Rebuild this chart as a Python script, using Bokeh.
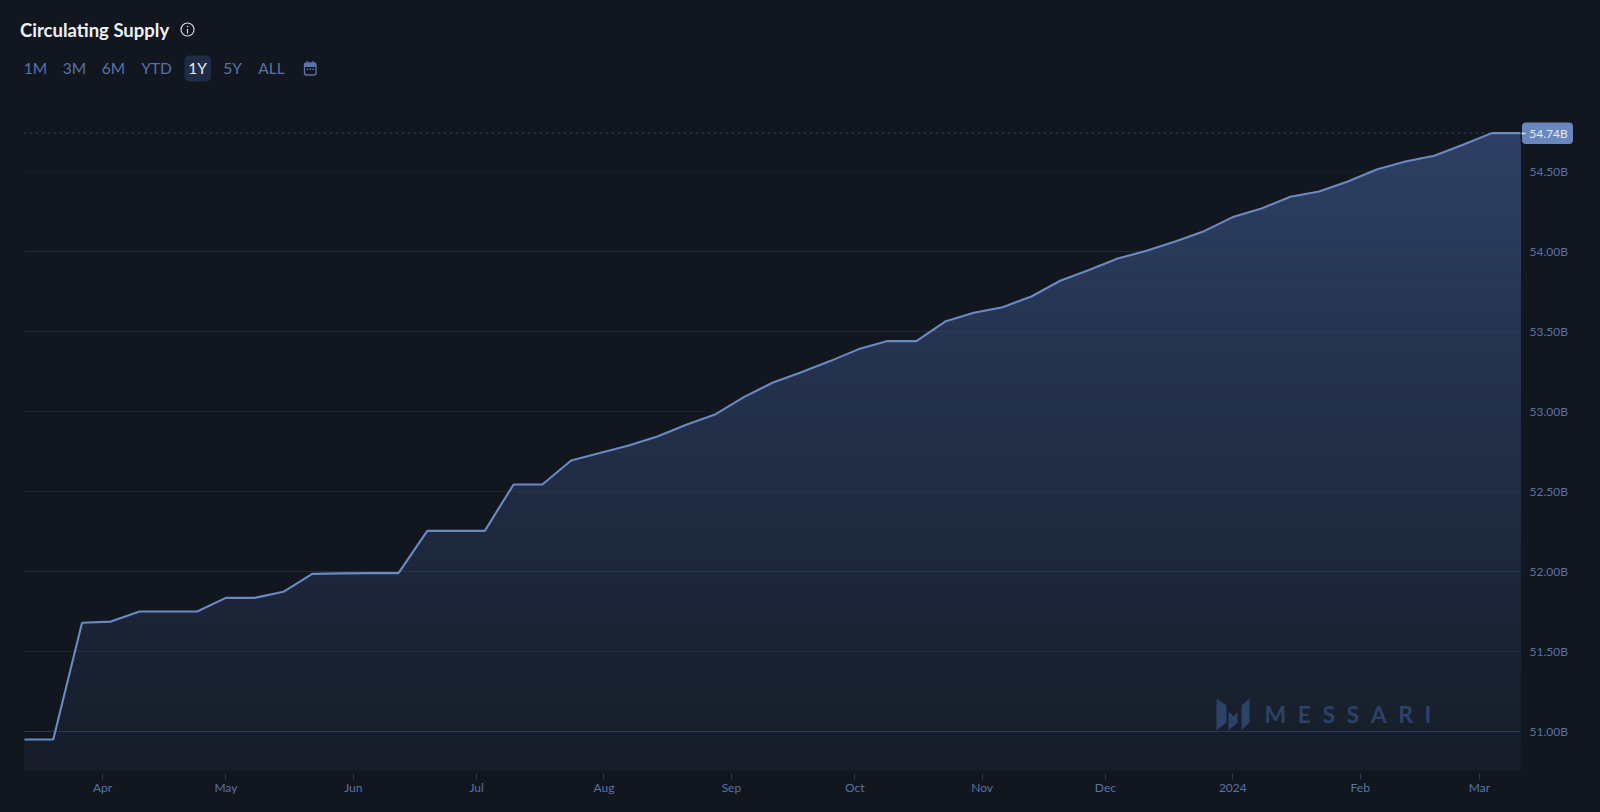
import numpy as np
from bokeh.embed import file_html
from bokeh.models import BoxAnnotation, FixedTicker, Label, PolyAnnotation
from bokeh.plotting import figure
from bokeh.resources import INLINE

# ---------- data ----------
START_DATE = "2023-03-13"
SUPPLY = [50.95, 50.95, 51.68, 51.687, 51.75, 51.75, 51.75, 51.835, 51.835, 51.873,
          51.985, 51.988, 51.99, 51.99, 52.254, 52.254, 52.254, 52.544, 52.544, 52.694,
          52.74, 52.788, 52.844, 52.917, 52.981, 53.09, 53.18, 53.245, 53.315, 53.39,
          53.44, 53.44, 53.562, 53.617, 53.652, 53.719, 53.817, 53.885, 53.956, 54.004,
          54.063, 54.127, 54.215, 54.269, 54.342, 54.375, 54.438, 54.512, 54.562, 54.598,
          54.667, 54.74, 54.74]
Y_TICKS = [51.0, 51.5, 52.0, 52.5, 53.0, 53.5, 54.0, 54.5]
Y_LABELS = ["51.00B", "51.50B", "52.00B", "52.50B", "53.00B", "53.50B", "54.00B", "54.50B"]
GRID_ALPHA = [0.7, 0.3, 0.5, 0.3, 0.25, 0.4, 0.45, 0.2]
MONTH_DATES = ["2023-04-01", "2023-05-01", "2023-06-01", "2023-07-01", "2023-08-01", "2023-09-01",
               "2023-10-01", "2023-11-01", "2023-12-01", "2024-01-01", "2024-02-01", "2024-03-01"]
MONTH_LABELS = ["Apr", "May", "Jun", "Jul", "Aug", "Sep", "Oct", "Nov", "Dec", "2024", "Feb", "Mar"]
RANGES = ["1M", "3M", "6M", "YTD", "1Y", "5Y", "ALL"]
RANGE_CENTERS = [35, 74, 113, 156, 197, 232, 271]
ACTIVE = "1Y"
LAST_LABEL = "54.74B"

# ---------- styles / layout ----------
BG = "#12161f"
LINE = "#6b8ac4"
MUTED = "#5873a6"
TOP_RGB = np.array([45, 63, 99])
BOTTOM_RGB = np.array([22, 28, 40])
W, H = 1600, 812
PLOT_LEFT, PLOT_RIGHT, PLOT_BOTTOM = 24, 1520, 770   # page pixels
PX_PER_B = 160.0
Y0_PAGE = 731.0


def ms(d):
    return np.datetime64(d, "ms").astype("int64").astype(float)


WEEK_MS = 7 * 86400000.0
x = ms(START_DATE) + WEEK_MS * np.arange(len(SUPPLY))
v = np.array(SUPPLY)
k = (x[-1] - x[0]) / (PLOT_RIGHT - PLOT_LEFT)
y_start = 51 - (PLOT_BOTTOM - Y0_PAGE) / PX_PER_B

# the frame fills the whole canvas so that the header and the value tag can be annotations
p = figure(width=W, height=H, output_backend="svg", toolbar_location=None,
           x_axis_type="datetime", y_axis_location="right",
           x_range=(x[0] - PLOT_LEFT * k, x[0] + (W - PLOT_LEFT) * k),
           y_range=(51 - (H - Y0_PAGE) / PX_PER_B, 51 + Y0_PAGE / PX_PER_B),
           background_fill_color=BG, border_fill_color=BG, outline_line_color=None,
           min_border_left=0, min_border_right=0, min_border_top=0, min_border_bottom=0)
p.xgrid.visible = False
p.ygrid.visible = False

# gradient area: nested areas from the tallest (lightest) down to the lowest (darkest)
levels = np.linspace(v.max(), y_start, 120)[:-1]
for lv in levels:
    f = (lv - y_start) / (v.max() - y_start)
    r, g, b = (BOTTOM_RGB + (TOP_RGB - BOTTOM_RGB) * f).round().astype(int)
    xs = np.union1d(x, [np.interp(lv, v, x)])
    ys = np.minimum(np.interp(xs, x, v), lv)
    area = p.varea(x=xs, y1=np.full(len(xs), y_start), y2=ys, fill_color=f"#{r:02x}{g:02x}{b:02x}")
    area.level = "image"

# grid
n = len(Y_TICKS)
grid = p.segment(x0=[x[0]] * n, x1=[x[-1]] * n, y0=Y_TICKS, y1=Y_TICKS, line_color="#2f4468",
                 line_alpha=GRID_ALPHA, line_width=1.2)
grid.level = "underlay"
dots = p.line([x[0], x[-1]], [SUPPLY[-1], SUPPLY[-1]], line_color="#7f93b8", line_alpha=0.75,
              line_width=1, line_dash="1 5")
dots.level = "underlay"

p.line(x, v, line_color=LINE, line_width=2.1)

# x axis
xa = p.xaxis[0]
xa.fixed_location = y_start
xa.ticker = FixedTicker(ticks=[ms(d) for d in MONTH_DATES])
xa.major_label_overrides = {ms(d): s for d, s in zip(MONTH_DATES, MONTH_LABELS)}
xa.axis_line_color = None
xa.minor_tick_line_color = None
xa.major_tick_line_color = "#2a3a57"
xa.major_tick_in = -3
xa.major_tick_out = 9
xa.major_label_standoff = 0
xa.major_label_text_color = MUTED
xa.major_label_text_font = "Lato"
xa.major_label_text_font_size = "12px"

# y axis on the right
ya = p.yaxis[0]
ya.fixed_location = x[-1]
ya.ticker = FixedTicker(ticks=Y_TICKS)
ya.major_label_overrides = dict(zip(Y_TICKS, Y_LABELS))
ya.axis_line_color = None
ya.major_tick_line_color = None
ya.minor_tick_line_color = None
ya.major_tick_in = 0
ya.major_tick_out = 0
ya.major_label_standoff = 9
ya.major_label_text_color = MUTED
ya.major_label_text_font = "Lato"
ya.major_label_text_font_size = "12px"


def sy(py):
    return H - py


def label(px, py, text, color=MUTED, size="15.5px", align="center", **kw):
    kw.setdefault("text_font", "Lato")
    p.add_layout(Label(x=px, y=sy(py), x_units="screen", y_units="screen", text=text,
                       text_color=color, text_font_size=size, text_align=align,
                       text_baseline="middle", **kw))


def box(l, r, t, b, color=None, line=None, radius=0, lw=1.0):
    p.add_layout(BoxAnnotation(left=l, right=r, top=sy(t), bottom=sy(b),
                               left_units="screen", right_units="screen",
                               top_units="screen", bottom_units="screen",
                               fill_color=color, fill_alpha=1 if color else 0,
                               line_color=line, line_alpha=1 if line else 0, line_width=lw,
                               border_radius=radius, editable=False))


# header
label(19.5, 29, "Circulating Supply", color="#eef1f6", size="18.5px", align="left", text_font_style="bold")
box(180.5, 193.5, 22.5, 35.5, line="#d5dae3", radius=7, lw=1.2)
box(186.4, 187.6, 28.5, 33, color="#d5dae3")
box(186.4, 187.6, 25.5, 26.8, color="#d5dae3")

box(184, 210.5, 55, 81, color="#1e2c45", radius=5)
for c, s in zip(RANGE_CENTERS, RANGES):
    label(c, 67, s, color="#e8ecf3" if s == ACTIVE else MUTED)

# calendar icon
box(304, 315.5, 62.5, 74.5, line=MUTED, radius=2, lw=1.4)
box(304, 315.5, 62.5, 66.5, color=MUTED)
box(306.3, 307.5, 60.5, 63.5, color=MUTED)
box(312, 313.2, 60.5, 63.5, color=MUTED)
box(306.3, 307.9, 68, 69.5, color=MUTED)
box(309.1, 310.7, 68, 69.5, color=MUTED)
box(311.9, 313.5, 68, 69.5, color=MUTED)

# last value tag
box(1521.5, 1572.5, 122, 143.5, color="#6a87bd", radius=4)
box(1521, 1525, 132.2, 133.8, color="#d9e0ec")
label(1548, 133, LAST_LABEL, color="#e4e9f2", size="12px")

# watermark
LOGO = "#2c4267"
label(1264, 713, "M\u2002E\u2002S\u2002S\u2002A\u2002R\u2002I", color=LOGO, size="23px", align="left",
      text_font_style="bold")
for xs_, ys_ in [([1216, 1226, 1226, 1216], [698, 705, 722, 730]),
                 ([1228, 1233.5, 1237, 1237, 1228], [711, 716, 711, 722, 730]),
                 ([1249, 1241, 1241, 1249], [698, 705, 730, 722])]:
    p.add_layout(PolyAnnotation(xs=list(xs_), ys=[sy(a) for a in ys_],
                                xs_units="screen", ys_units="screen",
                                fill_color=LOGO, fill_alpha=1, line_color=None))

page_style = f"<style>html,body{{background:{BG};}}</style></head>"
open("out.html", "w").write(file_html(p, INLINE).replace("</head>", page_style, 1))
